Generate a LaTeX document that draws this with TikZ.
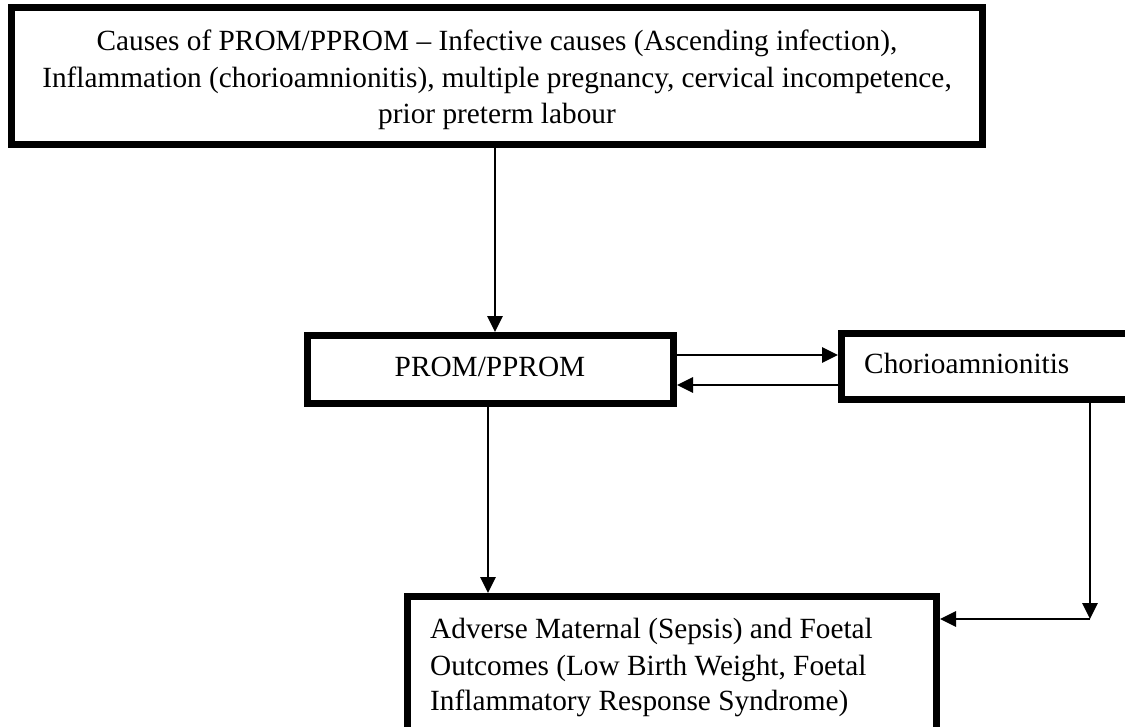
\documentclass[tikz,border=0pt]{standalone}
\usepackage{fontspec}
\setmainfont{Liberation Serif}
\usetikzlibrary{arrows.meta}
\begin{document}
\begin{tikzpicture}[x=1pt,y=-1pt,
  box/.style={draw, line width=7pt, inner sep=0pt},
  txt/.style={font=\fontsize{29.3}{36.5}\selectfont, inner sep=0pt},
  arr/.style={line width=2.8pt, -{Triangle[length=16pt,width=15pt]}}]
\useasboundingbox (0,0) rectangle (1125,726);
% boxes
\node[box, minimum width=971pt, minimum height=137pt] (top) at (497,76) {};
\node[box, minimum width=366pt, minimum height=68pt] (prom) at (490.5,369.5) {};
\node[box, minimum width=295pt, minimum height=66pt] (chorio) at (989,366.5) {};
\node[box, minimum width=529pt, minimum height=140pt] (adv) at (672,666.5) {};
% texts
\node[txt, anchor=base] (t1) at (497,50) {Causes of PROM/PPROM – Infective causes (Ascending infection),};
\node[txt, anchor=base] (t2) at (497,87) {Inflammation (chorioamnionitis), multiple pregnancy, cervical incompetence,};
\node[txt, anchor=base] (t3) at (497,123) {prior preterm labour};
\node[txt, anchor=base] (pt) at (490,376) {PROM/PPROM};
\node[txt, anchor=base west] (ct) at (864,373) {Chorioamnionitis};
\node[txt, anchor=base west] (a1) at (430,638) {Adverse Maternal (Sepsis) and Foetal};
\node[txt, anchor=base west] (a2) at (430,675) {Outcomes (Low Birth Weight, Foetal};
\node[txt, anchor=base west] (a3) at (430,710) {Inflammatory Response Syndrome)};
% connector guides
\coordinate (xa) at (495,0);
\coordinate (xb) at (488,0);
\coordinate (xc) at (1090,0);
\coordinate (ya) at (0,355);
\coordinate (yb) at (0,385);
\coordinate (corner) at (1090,619);
% connectors
\draw[arr] (top.south -| xa) -- (prom.north -| xa);
\draw[arr] (prom.east |- ya) -- (chorio.west |- ya);
\draw[arr] (chorio.west |- yb) -- (prom.east |- yb);
\draw[arr] (prom.south -| xb) -- (adv.north -| xb);
\draw[arr] (chorio.south -| xc) -- (corner);
\draw[arr] (corner) -- (adv.east |- corner);
\end{tikzpicture}
\end{document}
